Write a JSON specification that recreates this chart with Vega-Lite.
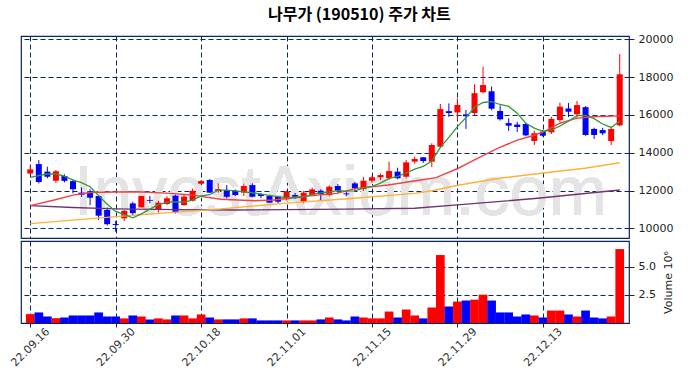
{
  "$schema": "https://vega.github.io/schema/vega-lite/v6.json",
  "background": "white",
  "padding": {"left": 8, "top": 6, "right": 2, "bottom": 2},
  "spacing": 1,
  "title": {"text": "나무가 (190510) 주가 차트", "font": "Noto Sans CJK KR", "fontSize": 16, "fontWeight": "bold", "color": "#000000", "anchor": "start", "frame": "group", "dx": 247, "offset": 10},
  "config": {
    "view": {"stroke": "#0a2463", "strokeWidth": 1.2},
    "axis": {"labelFont": "DejaVu Sans", "labelFontSize": 11, "labelColor": "#222222", "gridColor": "#0a2463", "gridDash": [5, 3], "gridWidth": 1, "gridOpacity": 1, "tickColor": "#222222", "domain": false, "titleFont": "DejaVu Sans", "titleFontWeight": "normal", "titleFontSize": 11, "titleColor": "#222222"}
  },
  "datasets": {
    "ohlc": [
      {"i":0,"o":12900,"h":13350,"l":12820,"c":13120,"v":0.79,"m5":12700},
      {"i":1,"o":13400,"h":13610,"l":12380,"c":12450,"v":0.94,"m5":12785},
      {"i":2,"o":13000,"h":13260,"l":12650,"c":12730,"v":0.58,"m5":12875},
      {"i":3,"o":12520,"h":13090,"l":12410,"c":13020,"v":0.43,"m5":12875},
      {"i":4,"o":12770,"h":12860,"l":12430,"c":12510,"v":0.49,"m5":12766},
      {"i":5,"o":12500,"h":12590,"l":11850,"c":12070,"v":0.67,"m5":12556},
      {"i":6,"o":11890,"h":12170,"l":11670,"c":11780,"v":0.67,"m5":12422},
      {"i":7,"o":11960,"h":12070,"l":11230,"c":11620,"v":0.67,"m5":12200},
      {"i":8,"o":11710,"h":11760,"l":10440,"c":10670,"v":0.94,"m5":11730},
      {"i":9,"o":10970,"h":11110,"l":10150,"c":10220,"v":0.58,"m5":11272},
      {"i":10,"o":10230,"h":10400,"l":9820,"c":10180,"v":0.58,"m5":10894},
      {"i":11,"o":10530,"h":10970,"l":10390,"c":10920,"v":0.41,"m5":10722},
      {"i":12,"o":11320,"h":11410,"l":10700,"c":10800,"v":0.67,"m5":10558},
      {"i":13,"o":11110,"h":11720,"l":11100,"c":11710,"v":0.58,"m5":10766},
      {"i":14,"o":11500,"h":11710,"l":11320,"c":11460,"v":0.32,"m5":11014},
      {"i":15,"o":11020,"h":11460,"l":10830,"c":11360,"v":0.41,"m5":11250},
      {"i":16,"o":11290,"h":11700,"l":11240,"c":11590,"v":0.32,"m5":11384},
      {"i":17,"o":11730,"h":11780,"l":10790,"c":10850,"v":0.67,"m5":11394},
      {"i":18,"o":11230,"h":11800,"l":11200,"c":11670,"v":0.67,"m5":11386},
      {"i":19,"o":11460,"h":12100,"l":11420,"c":11990,"v":0.41,"m5":11492},
      {"i":20,"o":12360,"h":12560,"l":12330,"c":12500,"v":0.76,"m5":11720},
      {"i":21,"o":12560,"h":12600,"l":11870,"c":11890,"v":0.49,"m5":11780},
      {"i":22,"o":11980,"h":12380,"l":11890,"c":12080,"v":0.32,"m5":12026},
      {"i":23,"o":12030,"h":12290,"l":11590,"c":11670,"v":0.32,"m5":12026},
      {"i":24,"o":11990,"h":12060,"l":11710,"c":11760,"v":0.32,"m5":11980},
      {"i":25,"o":11890,"h":12380,"l":11710,"c":12240,"v":0.41,"m5":11928},
      {"i":26,"o":12290,"h":12380,"l":11650,"c":11670,"v":0.41,"m5":11884},
      {"i":27,"o":11820,"h":11870,"l":11590,"c":11710,"v":0.23,"m5":11810},
      {"i":28,"o":11710,"h":11760,"l":11340,"c":11360,"v":0.23,"m5":11748},
      {"i":29,"o":11670,"h":11720,"l":11320,"c":11410,"v":0.23,"m5":11678},
      {"i":30,"o":11540,"h":12000,"l":11480,"c":11940,"v":0.23,"m5":11618},
      {"i":31,"o":11760,"h":11870,"l":11560,"c":11670,"v":0.23,"m5":11618},
      {"i":32,"o":11410,"h":11980,"l":11320,"c":11890,"v":0.23,"m5":11654},
      {"i":33,"o":11760,"h":12150,"l":11700,"c":12060,"v":0.23,"m5":11794},
      {"i":34,"o":11990,"h":12060,"l":11500,"c":11820,"v":0.32,"m5":11876},
      {"i":35,"o":11760,"h":12260,"l":11700,"c":12200,"v":0.49,"m5":11928},
      {"i":36,"o":12240,"h":12350,"l":11880,"c":11990,"v":0.32,"m5":11992},
      {"i":37,"o":11850,"h":11990,"l":11700,"c":11800,"v":0.23,"m5":11974},
      {"i":38,"o":12380,"h":12470,"l":11990,"c":12120,"v":0.58,"m5":11986},
      {"i":39,"o":12080,"h":12720,"l":11990,"c":12520,"v":0.49,"m5":12126},
      {"i":40,"o":12520,"h":12790,"l":12420,"c":12700,"v":0.41,"m5":12226},
      {"i":41,"o":12700,"h":12900,"l":12560,"c":12820,"v":0.41,"m5":12392},
      {"i":42,"o":12650,"h":13530,"l":12560,"c":13030,"v":1.02,"m5":12638},
      {"i":43,"o":13000,"h":13210,"l":12600,"c":12650,"v":0.49,"m5":12744},
      {"i":44,"o":12730,"h":13620,"l":12650,"c":13490,"v":1.2,"m5":12938},
      {"i":45,"o":13530,"h":13800,"l":13420,"c":13670,"v":0.67,"m5":13132},
      {"i":46,"o":13760,"h":13780,"l":13460,"c":13560,"v":0.41,"m5":13280},
      {"i":47,"o":13530,"h":14500,"l":13240,"c":14410,"v":1.38,"m5":13556},
      {"i":48,"o":14320,"h":16580,"l":14240,"c":16310,"v":6.05,"m5":14288},
      {"i":49,"o":16200,"h":16610,"l":15900,"c":16100,"v":1.47,"m5":14810},
      {"i":50,"o":16130,"h":16880,"l":15730,"c":16530,"v":1.91,"m5":15382},
      {"i":51,"o":16030,"h":16260,"l":15260,"c":15930,"v":2.0,"m5":15856},
      {"i":52,"o":16100,"h":17620,"l":16000,"c":17150,"v":2.08,"m5":16404},
      {"i":53,"o":17200,"h":18550,"l":17150,"c":17580,"v":2.52,"m5":16658},
      {"i":54,"o":17250,"h":17500,"l":16250,"c":16330,"v":2.0,"m5":16704},
      {"i":55,"o":16210,"h":16500,"l":15700,"c":15770,"v":0.94,"m5":16552},
      {"i":56,"o":15570,"h":15820,"l":15150,"c":15430,"v":0.94,"m5":16452},
      {"i":57,"o":15490,"h":15640,"l":15100,"c":15360,"v":0.58,"m5":16094},
      {"i":58,"o":15520,"h":15600,"l":14880,"c":14920,"v":0.76,"m5":15562},
      {"i":59,"o":14620,"h":15170,"l":14410,"c":15030,"v":0.67,"m5":15302},
      {"i":60,"o":15110,"h":15200,"l":14850,"c":14900,"v":0.49,"m5":15128},
      {"i":61,"o":15080,"h":15900,"l":14990,"c":15790,"v":1.11,"m5":15200},
      {"i":62,"o":15730,"h":16650,"l":15620,"c":16440,"v":1.11,"m5":15416},
      {"i":63,"o":16340,"h":16630,"l":15880,"c":16170,"v":0.76,"m5":15666},
      {"i":64,"o":16030,"h":16740,"l":15850,"c":16520,"v":0.58,"m5":15964},
      {"i":65,"o":16410,"h":16470,"l":14900,"c":14940,"v":1.11,"m5":15972},
      {"i":66,"o":15260,"h":15320,"l":14730,"c":14940,"v":0.49,"m5":15802},
      {"i":67,"o":15200,"h":15320,"l":14930,"c":15030,"v":0.41,"m5":15520},
      {"i":68,"o":14620,"h":15380,"l":14410,"c":15260,"v":0.58,"m5":15338},
      {"i":69,"o":15450,"h":19220,"l":15400,"c":18150,"v":6.58,"m5":15664}
    ],
    "ma20": [
      {"i":0,"ma":11200},{"i":2.8,"ma":11500},{"i":5,"ma":11760},{"i":7,"ma":11900},{"i":10,"ma":11920},
      {"i":12.6,"ma":11940},{"i":16.4,"ma":11850},{"i":19,"ma":11760},{"i":22.3,"ma":11540},{"i":26.2,"ma":11460},
      {"i":28.5,"ma":11500},{"i":32.1,"ma":11700},{"i":35.9,"ma":11850},{"i":38,"ma":12100},{"i":41.9,"ma":12290},
      {"i":45.7,"ma":12560},{"i":47.5,"ma":12680},{"i":50.1,"ma":13180},{"i":52.4,"ma":13710},{"i":54.7,"ma":14230},
      {"i":57,"ma":14670},{"i":58.8,"ma":14900},{"i":60.1,"ma":15110},{"i":62,"ma":15560},{"i":63.9,"ma":15820},
      {"i":65.8,"ma":15900},{"i":69,"ma":15950}
    ],
    "ma60": [
      {"i":0,"ma":10250},{"i":10,"ma":10620},{"i":16.2,"ma":10830},{"i":22,"ma":11020},{"i":29.6,"ma":11320},
      {"i":37.2,"ma":11570},{"i":45,"ma":11850},{"i":47.2,"ma":12000},{"i":49.9,"ma":12270},{"i":54.9,"ma":12650},
      {"i":60.3,"ma":12940},{"i":64.9,"ma":13180},{"i":69,"ma":13470}
    ],
    "ma120": [
      {"i":0,"ma":11200},{"i":5,"ma":11100},{"i":10,"ma":11030},{"i":17,"ma":10990},{"i":24,"ma":10970},
      {"i":37,"ma":11020},{"i":45,"ma":11060},{"i":50,"ma":11240},{"i":59.4,"ma":11590},{"i":69,"ma":12030}
    ]
  },
  "vconcat": [
    {
      "width": 608,
      "height": 202,
      "data": {"name": "ohlc"},
      "encoding": {
        "x": {"field": "i", "type": "quantitative", "title": null,
              "scale": {"domain": [-0.5, 69.5], "nice": false, "zero": false},
              "axis": {"values": [0, 10, 20, 30, 40, 50, 60], "labels": false, "ticks": false, "domain": false, "grid": true, "title": null, "minExtent": 0, "maxExtent": 0}}
      },
      "layer": [
        {
          "mark": {"type": "text", "font": "Liberation Sans", "fontSize": 70, "color": "#e4e4e4", "align": "center", "baseline": "alphabetic"},
          "encoding": {
            "x": {"datum": 36.3, "type": "quantitative"},
            "y": {"datum": 10700, "type": "quantitative"},
            "text": {"value": "InvestAxiom.com"}
          }
        },
        {
          "mark": {"type": "rule", "strokeWidth": 1},
          "encoding": {
            "y": {"field": "l", "type": "quantitative", "title": null,
                  "scale": {"domain": [9490, 20175], "nice": false, "zero": false},
                  "axis": {"orient": "right", "values": [10000, 12000, 14000, 16000, 18000, 20000], "format": "d", "tickSize": 5, "labelPadding": 4, "grid": true, "title": null}},
            "y2": {"field": "h"},
            "color": {"condition": {"test": "datum.c >= datum.o", "value": "#ff0000"}, "value": "#0000ff"}
          }
        },
        {
          "mark": {"type": "bar", "size": 6},
          "encoding": {
            "y": {"field": "o", "type": "quantitative", "title": null},
            "y2": {"field": "c"},
            "color": {"condition": {"test": "datum.c >= datum.o", "value": "#ff0000"}, "value": "#0000ff"}
          }
        },
        {
          "data": {"name": "ma120"},
          "mark": {"type": "line", "color": "#6e3472", "strokeWidth": 1.4},
          "encoding": {"y": {"field": "ma", "type": "quantitative", "title": null}}
        },
        {
          "data": {"name": "ma60"},
          "mark": {"type": "line", "color": "#ffb03a", "strokeWidth": 1.4},
          "encoding": {"y": {"field": "ma", "type": "quantitative", "title": null}}
        },
        {
          "data": {"name": "ma20"},
          "mark": {"type": "line", "color": "#f04444", "strokeWidth": 1.4},
          "encoding": {"y": {"field": "ma", "type": "quantitative", "title": null}}
        },
        {
          "mark": {"type": "line", "color": "#339933", "strokeWidth": 1.3},
          "encoding": {"y": {"field": "m5", "type": "quantitative", "title": null}}
        }
      ]
    },
    {
      "width": 608,
      "height": 82,
      "data": {"name": "ohlc"},
      "mark": {"type": "bar", "size": 8.7},
      "encoding": {
        "x": {"field": "i", "type": "quantitative", "title": null,
              "scale": {"domain": [-0.5, 69.5], "nice": false, "zero": false},
              "axis": {"values": [0, 10, 20, 30, 40, 50, 60],
                       "labelExpr": "{'0':'22.09.16','10':'22.09.30','20':'22.10.18','30':'22.11.01','40':'22.11.15','50':'22.11.29','60':'22.12.13'}[datum.value]",
                       "labelAngle": -45, "labelAlign": "center", "labelBaseline": "middle", "labelPadding": 20, "labelColor": "#333333", "tickSize": 4, "grid": true, "title": null}},
        "y": {"field": "v", "type": "quantitative",
              "scale": {"domain": [0, 7.3], "nice": false, "zero": true},
              "axis": {"orient": "right", "values": [2.5, 5], "format": ".1f", "tickSize": 5, "labelPadding": 4, "grid": true, "title": "Volume  10⁶", "titleAngle": 270, "titlePadding": 18}},
        "color": {"condition": {"test": "datum.c >= datum.o", "value": "#ff0000"}, "value": "#0000ff"}
      }
    }
  ]
}
